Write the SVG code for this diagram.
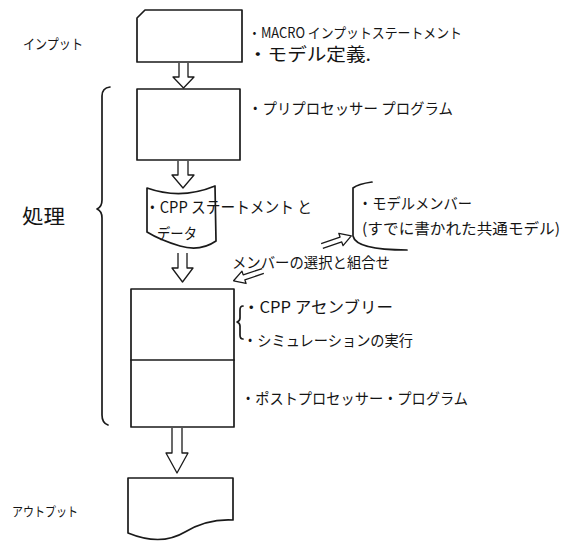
<svg xmlns="http://www.w3.org/2000/svg" width="575" height="541" viewBox="0 0 575 541">
<style>
.s{fill:none;stroke:#1a1a1a;stroke-width:1.7;stroke-linejoin:round;stroke-linecap:round}
.n{fill:#fff;stroke:#1a1a1a;stroke-width:1.7;stroke-linejoin:round}
.t{font-family:"Noto Sans CJK JP","Noto Sans",sans-serif;fill:#141414;font-size:15px}
.a{fill:#fff;stroke:#1a1a1a;stroke-width:1.3;stroke-linejoin:round}
</style>
<defs>
<path id="harrow" d="M0,-2.6 H20 V-6.5 L31,0 L20,6.5 V2.6 H0"/>
</defs>
<rect width="575" height="541" fill="#fff"/>

<g id="label-input"><text class="t" x="23" y="49" style="font-size:14px" textLength="60" lengthAdjust="spacingAndGlyphs">インプット</text></g>
<g id="label-process"><text class="t" x="22" y="224" style="font-size:20px" textLength="43" lengthAdjust="spacingAndGlyphs">処理</text>
<path class="s" d="M110,87 Q102,88 102,96 L102,200 Q102,207 97,209 Q102,211 102,218 L102,415 Q102,423 108,425"/></g>
<g id="label-output"><text class="t" x="12" y="516" style="font-size:13px" textLength="66" lengthAdjust="spacingAndGlyphs">アウトプット</text></g>

<g id="input-card">
<path class="n" d="M137,18 L145,10 H242 V62 H137 Z"/>
<text class="t" x="248" y="38" style="font-size:14px" textLength="214" lengthAdjust="spacingAndGlyphs">・MACRO インプットステートメント</text>
<text class="t" x="248" y="61" style="font-size:18px" textLength="123" lengthAdjust="spacingAndGlyphs">・モデル定義.</text>
</g>

<g id="preprocessor">
<rect class="n" x="137" y="89" width="103" height="71"/>
<text class="t" x="248" y="114" textLength="205" lengthAdjust="spacingAndGlyphs">・プリプロセッサー プログラム</text>
</g>

<g id="cpp-data">
<path class="n" d="M147,188 Q181,200 215,186 L216,241 Q200,252 180,246 Q160,240 147,232 Z"/>
<text class="t" x="145" y="213" style="font-size:16px" textLength="167" lengthAdjust="spacingAndGlyphs">・CPP ステートメント と</text>
<text class="t" x="157" y="239" style="font-size:15px" textLength="40" lengthAdjust="spacingAndGlyphs">データ</text>
</g>

<g id="model-members">
<path class="s" d="M372,182 Q358,184 353,188 L353,236 Q356,250 407,250"/>
<text class="t" x="358" y="209" textLength="114" lengthAdjust="spacingAndGlyphs">・モデルメンバー</text>
<text class="t" x="362" y="234" textLength="198" lengthAdjust="spacingAndGlyphs">(すでに書かれた共通モデル)</text>
</g>

<g id="assembly-simulation-post">
<rect class="n" x="131" y="289" width="103" height="138"/>
<line class="s" x1="131" y1="360" x2="234" y2="360"/>
<path class="s" d="M243,306 Q240,306 240,310 V318 Q240,321 237,322 Q240,323 240,326 V335 Q240,339 243,339"/>
<text class="t" x="243" y="313" style="font-size:16px" textLength="150" lengthAdjust="spacingAndGlyphs">・CPP アセンブリー</text>
<text class="t" x="243" y="346" textLength="170" lengthAdjust="spacingAndGlyphs">・シミュレーションの実行</text>
<text class="t" x="241" y="404" textLength="227" lengthAdjust="spacingAndGlyphs">・ポストプロセッサー・プログラム</text>
</g>

<g id="output-doc">
<path class="n" d="M128,478 H233 V520 C215,519 200,523 185,532 C170,541 150,542 128,533 Z"/>
</g>

<g id="connectors">
<path class="a" d="M179,63 V77 H173 L183.5,88 L194,77 H188 V63"/>
<path class="a" d="M178,161 V175 H172 L183,188 L194,175 H188 V161"/>
<path class="a" d="M178,253 V268 H172 L182.5,282 L193,268 H187 V253"/>
<path class="a" d="M172,428 V453 H166 L177,473 L188,453 H182 V428"/>
<use href="#harrow" class="a" transform="translate(322,246) rotate(-19)"/>
<use href="#harrow" class="a" transform="translate(263,271) rotate(161.6)"/>
<text class="t" x="232" y="268" textLength="158" lengthAdjust="spacingAndGlyphs">メンバーの選択と組合せ</text>
</g>
</svg>
